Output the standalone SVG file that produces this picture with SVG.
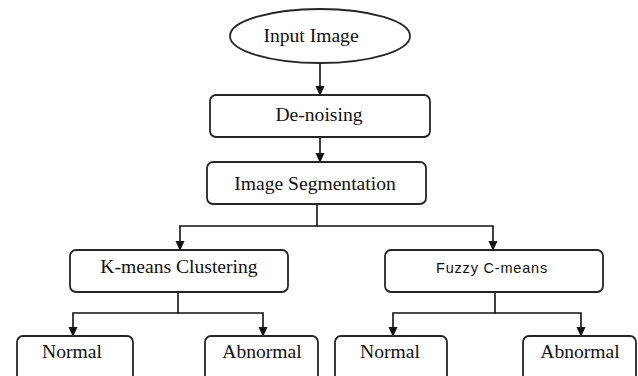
<svg xmlns="http://www.w3.org/2000/svg" width="638" height="376" viewBox="0 0 638 376">
<style>
.box{fill:#fff;stroke:#262626;stroke-width:1.8}
.t{font-family:"Liberation Serif","Times New Roman",serif;font-size:19.6px;fill:#111;text-anchor:middle}
.s{font-family:"Liberation Sans",Arial,sans-serif;font-size:14.5px;letter-spacing:0.8px;fill:#111;text-anchor:middle}
.c{fill:none;stroke:#111;stroke-width:1.6}
</style>
<defs>
<marker id="ah" markerWidth="10" markerHeight="10" refX="9" refY="5" orient="auto" markerUnits="userSpaceOnUse">
<path d="M0,0.5 L10,5 L0,9.5 Z" fill="#111"/>
</marker>
</defs>
<rect width="638" height="376" fill="#fff"/>
<g id="connectors">
<path class="c" d="M320,63 V95" marker-end="url(#ah)"/>
<path class="c" d="M320,137 V162" marker-end="url(#ah)"/>
<path class="c" d="M317,204 V226 H180 V250" marker-end="url(#ah)"/>
<path class="c" d="M317,226 H493 V250" marker-end="url(#ah)"/>
<path class="c" d="M178,292 V313 H73 V336" marker-end="url(#ah)"/>
<path class="c" d="M178,313 H263 V336" marker-end="url(#ah)"/>
<path class="c" d="M495,292 V313 H393 V336" marker-end="url(#ah)"/>
<path class="c" d="M495,313 H581 V336" marker-end="url(#ah)"/>
</g>
<g id="input">
<ellipse class="box" cx="320" cy="36" rx="90" ry="27"/>
<text class="t" x="311" y="42">Input Image</text>
</g>
<g id="denoising">
<rect class="box" x="210" y="95" width="220" height="42" rx="6"/>
<text class="t" x="319" y="121">De-noising</text>
</g>
<g id="segmentation">
<rect class="box" x="207" y="162" width="219" height="42" rx="6"/>
<text class="t" x="315" y="190">Image Segmentation</text>
</g>
<g id="kmeans">
<rect class="box" x="70" y="250" width="218" height="42" rx="6"/>
<text class="t" x="179" y="273">K-means Clustering</text>
</g>
<g id="fuzzy">
<rect class="box" x="385" y="250" width="218" height="42" rx="6"/>
<text class="s" x="492" y="273">Fuzzy C-means</text>
</g>
<g id="normal1">
<rect class="box" x="17" y="336" width="116" height="50" rx="6"/>
<text class="t" x="72" y="358">Normal</text>
</g>
<g id="abnormal1">
<rect class="box" x="205" y="336" width="113" height="50" rx="6"/>
<text class="t" x="262" y="358">Abnormal</text>
</g>
<g id="normal2">
<rect class="box" x="335" y="336" width="112" height="50" rx="6"/>
<text class="t" x="390" y="358">Normal</text>
</g>
<g id="abnormal2">
<rect class="box" x="523" y="336" width="113" height="50" rx="6"/>
<text class="t" x="580" y="358">Abnormal</text>
</g>
</svg>
